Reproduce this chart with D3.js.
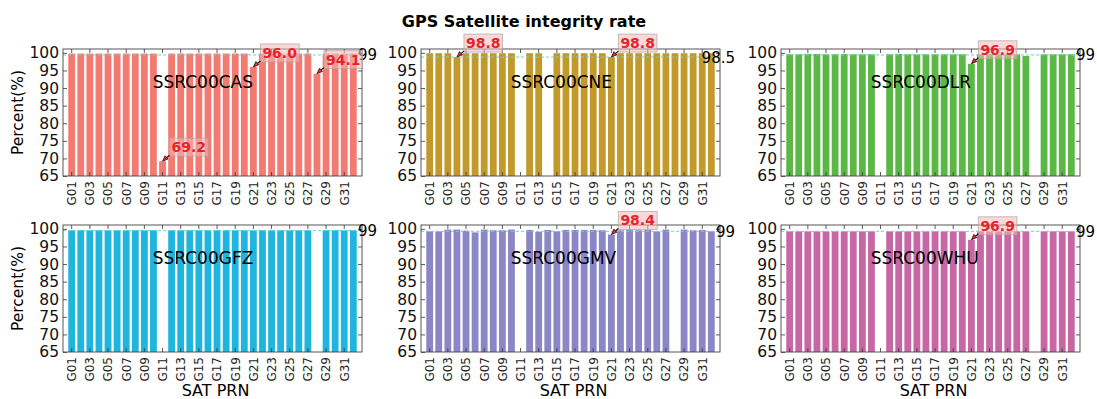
<!DOCTYPE html>
<html>
<head>
<meta charset="utf-8">
<script src="https://cdn.jsdelivr.net/npm/d3@7/dist/d3.min.js"></script>
<style>
body { margin: 0; background: #fff; }
text { font-family: "DejaVu Sans", sans-serif; }
</style>
</head>
<body>
<div id="my_dataviz"></div>
<script>
// satellites
var prns = ["G01","G02","G03","G04","G05","G06","G07","G08","G09","G10",
            "G11","G12","G13","G14","G15","G16","G17","G18","G19","G20",
            "G21","G22","G23","G24","G25","G26","G27","G28","G29","G30",
            "G31","G32"];
var xTickLabels = ["G01","G03","G05","G07","G09","G11","G13","G15",
                   "G17","G19","G21","G23","G25","G27","G29","G31"];
var yTicks = [65, 70, 75, 80, 85, 90, 95, 100];

var centers = ["SSRC00CAS","SSRC00CNE","SSRC00DLR","SSRC00GFZ","SSRC00GMV","SSRC00WHU"];
var colors = ["#f27a71","#c29a2c","#5bb847","#1fb5de","#8b86c6","#c767a4"];

// integrity rate (%) per satellite, null = no data
var casValues = [99.8,99.8,99.8,99.8,99.8,99.8,99.8,99.8,99.8,99.8,
                 69.2,99.8,99.8,99.8,99.8,99.8,99.8,99.8,99.8,99.8,
                 96.0,99.8,99.8,99.8,99.8,99.8,99.8,94.1,99.8,99.8,
                 99.8,99.8];
var cneValues = [99.9,99.9,99.9,98.8,99.9,99.9,99.9,99.9,99.9,99.9,
                 null,99.9,99.9,null,99.9,99.9,99.9,99.9,99.9,99.9,
                 98.8,99.9,99.9,99.9,99.9,99.9,99.9,99.9,99.9,99.9,
                 99.9,99.9];
var dlrValues = [99.6,99.6,99.7,99.7,99.6,99.6,99.7,99.6,99.6,99.6,
                 null,99.6,99.7,99.6,99.6,99.6,99.6,99.6,99.6,99.6,
                 96.9,99.6,99.6,99.6,99.6,99.6,99.1,null,99.6,99.6,
                 99.6,99.6];
var gfzValues = [99.6,99.6,99.6,99.6,99.6,99.6,99.6,99.6,99.6,99.6,
                 null,99.6,99.6,99.6,99.6,99.6,99.6,99.6,99.6,99.6,
                 99.6,99.6,99.6,99.6,99.6,99.6,99.6,null,99.6,99.6,
                 99.6,99.6];
var gmvValues = [99.3,99.3,99.8,99.8,99.5,99.0,99.8,99.6,99.6,99.8,
                 null,99.7,99.2,99.7,99.3,99.7,99.7,99.7,99.7,99.6,
                 98.4,99.6,99.8,99.6,99.7,99.3,99.8,null,99.8,99.6,
                 99.7,99.3];
var whuValues = [99.3,99.3,99.3,99.3,99.3,99.3,99.3,99.3,99.3,99.3,
                 null,99.3,99.3,99.3,99.3,99.3,99.3,99.3,99.3,99.3,
                 96.9,99.3,99.3,99.3,99.3,99.3,99.3,null,99.3,99.3,
                 99.3,99.3];
var allValues = [casValues, cneValues, dlrValues, gfzValues, gmvValues, whuValues];

// reference (mean) line and its label
var refValues = [99.4, 98.8, 99.4, 99.5, 99.3, 99.3];
var refLabels = ["99", "98.5", "99", "99", "99", "99"];

// satellites that get a red annotation
var marked = [["G11","G21","G28"], ["G04","G21"], ["G21"], [], ["G21"], ["G21"]];

var width = 1097;
var height = 399;

var svg = d3.select("#my_dataviz").append("svg")
    .attr("width", width)
    .attr("height", height)
    .style("background-color", "white");

var colX = [63, 421, 781];
var rowY = [49, 225];
var pw = 299, ph = 127;

var x = d3.scaleBand()
    .domain(prns)
    .range([0, pw])
    .paddingInner(0.25)
    .paddingOuter(0.58);

var y = d3.scaleLinear()
    .domain([65, 101.1])
    .range([ph, 0]);

// title
svg.append("text")
    .attr("x", 524)
    .attr("y", 27)
    .attr("text-anchor", "middle")
    .style("font-size", "16px")
    .style("font-weight", "bold")
    .text("GPS Satellite integrity rate");

var annLayer = [];

centers.forEach(function(name, k) {
    var col = k % 3, row = Math.floor(k / 3);
    var g = svg.append("g")
        .attr("transform", "translate(" + colX[col] + "," + rowY[row] + ")");
    var data = prns.map(function(p, i) { return { prn: p, v: allValues[k][i] }; })
        .filter(function(d) { return d.v !== null; });

    // bars
    g.selectAll("rect.bar")
        .data(data)
        .enter()
        .append("rect")
            .attr("class", "bar")
            .attr("x", function(d) { return x(d.prn); })
            .attr("width", x.bandwidth())
            .attr("y", function(d) { return y(d.v); })
            .attr("height", function(d) { return y(65) - y(d.v); })
            .attr("fill", colors[k]);

    // reference line
    g.append("line")
        .attr("x1", 0).attr("x2", pw)
        .attr("y1", y(refValues[k])).attr("y2", y(refValues[k]))
        .attr("stroke", "#6fd0d0")
        .attr("stroke-width", 1)
        .attr("stroke-dasharray", "3,2");

    // axes, ticks pointing inward
    var left = g.append("g")
        .call(d3.axisLeft(y).tickValues(yTicks).tickSizeInner(-4).tickSizeOuter(0).tickPadding(4));
    left.selectAll("text").style("font-size", "15.5px").attr("fill", "#111");
    g.append("g")
        .attr("transform", "translate(" + pw + ",0)")
        .call(d3.axisRight(y).tickValues(yTicks.slice(1)).tickSizeInner(-4).tickSizeOuter(0).tickFormat(""));
    g.append("g")
        .call(d3.axisTop(x).tickValues(xTickLabels).tickSizeInner(-4).tickSizeOuter(0).tickFormat(""));
    var bottom = g.append("g")
        .attr("transform", "translate(0," + ph + ")")
        .call(d3.axisBottom(x).tickValues(xTickLabels).tickSizeInner(-4).tickSizeOuter(0));
    bottom.selectAll("text")
        .attr("transform", "rotate(-90)")
        .attr("text-anchor", "end")
        .attr("x", -5)
        .attr("y", 0)
        .attr("dy", "0.36em")
        .attr("fill", "#222")
        .style("font-size", "12px");
    g.selectAll(".domain").remove();
    g.selectAll(".tick line").attr("stroke", "#333").attr("stroke-width", 0.8);

    // frame
    g.append("rect")
        .attr("width", pw).attr("height", ph)
        .attr("fill", "none")
        .attr("stroke", "#444")
        .attr("stroke-width", 0.9);

    // station name
    g.append("text")
        .attr("x", pw * 0.3)
        .attr("y", ph * 0.305)
        .style("font-size", "17px")
        .text(name);

    // mean label at right edge
    g.append("text")
        .attr("x", pw + 15)
        .attr("y", y(refValues[k]))
        .attr("dy", "0.36em")
        .attr("text-anchor", "end")
        .style("font-size", "15px")
        .text(refLabels[k]);

    if (col === 0) {
        svg.append("text")
            .attr("transform", "translate(18," + (rowY[row] + ph / 2) + ") rotate(-90)")
            .attr("text-anchor", "middle")
            .attr("dy", "0.35em")
            .style("font-size", "15.5px")
            .text("Percent(%)");
    }
    if (row === 1) {
        svg.append("text")
            .attr("x", colX[col] + pw / 2 + 3)
            .attr("y", 396)
            .attr("text-anchor", "middle")
            .style("font-size", "16px")
            .text("SAT PRN");
    }

    marked[k].forEach(function(p) {
        annLayer.push({ col: col, row: row, prn: p, v: allValues[k][prns.indexOf(p)] });
    });
});

// red annotations on top of everything
annLayer.forEach(function(a) {
    var px = colX[a.col] + x(a.prn) + x.bandwidth() / 2;
    var py = rowY[a.row] + y(a.v);
    var ag = svg.append("g");
    var box = ag.append("rect");
    var t = ag.append("text")
        .attr("x", px + 9)
        .attr("y", py - 9)
        .attr("fill", "#e4252c")
        .style("font-size", "14px")
        .style("font-weight", "bold")
        .text(a.v.toFixed(1));
    var bb = t.node().getBBox();
    box.attr("x", bb.x - 2).attr("y", bb.y - 1)
        .attr("width", bb.width + 4).attr("height", bb.height + 2)
        .attr("fill", "#f3b9b9")
        .attr("fill-opacity", 0.55)
        .attr("stroke", "#b8a0a0")
        .attr("stroke-opacity", 0.7);
    // short arrow pointing at the bar top
    var x0 = px + 7, y0 = py - 6;
    ag.append("path")
        .attr("d", "M" + x0 + "," + y0 + "L" + (px + 1) + "," + (py - 1))
        .attr("stroke", "#111")
        .attr("stroke-width", 1.2);
    ag.append("path")
        .attr("d", "M" + (px) + "," + (py) +
                   "L" + (px + 5.5) + "," + (py - 2.2) +
                   "L" + (px + 2.5) + "," + (py - 5.5) + "Z")
        .attr("fill", "#e4252c")
        .attr("stroke", "#111")
        .attr("stroke-width", 0.7);
});
</script>
</body>
</html>
